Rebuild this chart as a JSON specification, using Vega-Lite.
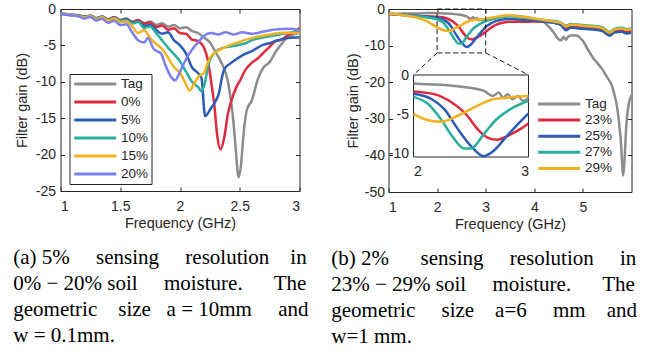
{
"$schema": "https://vega.github.io/schema/vega-lite/v6.json",
"background": "white",
"padding": {"left": 12.5, "top": 1, "right": 0, "bottom": 0},
"spacing": 21,
"config": {
  "view": {"stroke": "#262626", "strokeWidth": 1},
  "axis": {"labelFont": "Liberation Sans", "labelFontSize": 14, "labelColor": "#262626", "titleFont": "Liberation Sans", "titleFontSize": 14.5, "titleFontWeight": "normal", "titleColor": "#262626", "tickColor": "#262626", "tickSize": -4, "domain": false, "grid": false},
  "axisX": {"labelPadding": 12},
  "axisY": {"labelPadding": 9},
  "legend": {"labelFont": "Liberation Sans", "labelFontSize": 13.5, "labelColor": "#262626", "symbolType": "M-1,0H7", "symbolSize": 110, "symbolStrokeWidth": 3, "labelOffset": 34.5},
  "title": {"font": "Liberation Serif", "fontSize": 21, "fontWeight": "normal", "color": "black", "lineHeight": 26, "orient": "bottom", "anchor": "start", "frame": "bounds", "offset": 17}
},
"resolve": {"scale": {"color": "independent"}, "legend": {"color": "independent"}},
"datasets": {
"L": [
{"s":"Tag","f":1.00,"g":-0.6},{"s":"Tag","f":1.05,"g":-0.7},{"s":"Tag","f":1.10,"g":-0.8},{"s":"Tag","f":1.15,"g":-0.85},{"s":"Tag","f":1.20,"g":-1.05},{"s":"Tag","f":1.25,"g":-0.9},{"s":"Tag","f":1.30,"g":-1.25},{"s":"Tag","f":1.35,"g":-1.0},{"s":"Tag","f":1.40,"g":-1.4},{"s":"Tag","f":1.45,"g":-1.1},{"s":"Tag","f":1.50,"g":-1.5},{"s":"Tag","f":1.55,"g":-1.3},{"s":"Tag","f":1.60,"g":-1.75},{"s":"Tag","f":1.65,"g":-1.5},{"s":"Tag","f":1.70,"g":-1.95},{"s":"Tag","f":1.75,"g":-1.7},{"s":"Tag","f":1.80,"g":-2.2},{"s":"Tag","f":1.85,"g":-1.95},{"s":"Tag","f":1.90,"g":-2.45},{"s":"Tag","f":1.95,"g":-2.2},{"s":"Tag","f":2.00,"g":-2.65},{"s":"Tag","f":2.05,"g":-2.5},{"s":"Tag","f":2.10,"g":-3.0},{"s":"Tag","f":2.15,"g":-3.3},{"s":"Tag","f":2.20,"g":-3.9},{"s":"Tag","f":2.25,"g":-4.6},{"s":"Tag","f":2.30,"g":-6.0},{"s":"Tag","f":2.35,"g":-7.5},{"s":"Tag","f":2.40,"g":-9.9},{"s":"Tag","f":2.45,"g":-16.0},{"s":"Tag","f":2.47,"g":-20.0},{"s":"Tag","f":2.49,"g":-23.1},{"s":"Tag","f":2.51,"g":-21.5},{"s":"Tag","f":2.53,"g":-17.5},{"s":"Tag","f":2.56,"g":-13.8},{"s":"Tag","f":2.60,"g":-12.6},{"s":"Tag","f":2.65,"g":-9.7},{"s":"Tag","f":2.70,"g":-8.0},{"s":"Tag","f":2.75,"g":-7.3},{"s":"Tag","f":2.80,"g":-5.9},{"s":"Tag","f":2.85,"g":-4.8},{"s":"Tag","f":2.90,"g":-3.9},{"s":"Tag","f":2.95,"g":-3.5},{"s":"Tag","f":3.00,"g":-3.2},
{"s":"0%","f":1.00,"g":-0.6},{"s":"0%","f":1.05,"g":-0.75},{"s":"0%","f":1.10,"g":-0.8},{"s":"0%","f":1.15,"g":-0.9},{"s":"0%","f":1.20,"g":-1.05},{"s":"0%","f":1.25,"g":-0.95},{"s":"0%","f":1.30,"g":-1.3},{"s":"0%","f":1.35,"g":-1.05},{"s":"0%","f":1.40,"g":-1.45},{"s":"0%","f":1.45,"g":-1.15},{"s":"0%","f":1.50,"g":-1.55},{"s":"0%","f":1.55,"g":-1.35},{"s":"0%","f":1.60,"g":-1.8},{"s":"0%","f":1.65,"g":-1.55},{"s":"0%","f":1.70,"g":-2.0},{"s":"0%","f":1.75,"g":-1.85},{"s":"0%","f":1.80,"g":-2.5},{"s":"0%","f":1.85,"g":-2.25},{"s":"0%","f":1.90,"g":-2.85},{"s":"0%","f":1.95,"g":-2.65},{"s":"0%","f":2.00,"g":-3.3},{"s":"0%","f":2.05,"g":-3.4},{"s":"0%","f":2.10,"g":-4.2},{"s":"0%","f":2.15,"g":-4.4},{"s":"0%","f":2.20,"g":-5.3},{"s":"0%","f":2.23,"g":-6.8},{"s":"0%","f":2.26,"g":-9.9},{"s":"0%","f":2.29,"g":-13.6},{"s":"0%","f":2.31,"g":-17.2},{"s":"0%","f":2.34,"g":-19.3},{"s":"0%","f":2.37,"g":-17.7},{"s":"0%","f":2.40,"g":-14.5},{"s":"0%","f":2.43,"g":-12.6},{"s":"0%","f":2.47,"g":-10.8},{"s":"0%","f":2.50,"g":-9.9},{"s":"0%","f":2.55,"g":-8.3},{"s":"0%","f":2.60,"g":-7.4},{"s":"0%","f":2.65,"g":-6.8},{"s":"0%","f":2.70,"g":-6.0},{"s":"0%","f":2.75,"g":-5.2},{"s":"0%","f":2.80,"g":-4.4},{"s":"0%","f":2.85,"g":-4.2},{"s":"0%","f":2.90,"g":-3.6},{"s":"0%","f":2.95,"g":-3.2},{"s":"0%","f":3.00,"g":-2.6},
{"s":"5%","f":1.00,"g":-0.6},{"s":"5%","f":1.05,"g":-0.75},{"s":"5%","f":1.10,"g":-0.85},{"s":"5%","f":1.15,"g":-0.9},{"s":"5%","f":1.20,"g":-1.1},{"s":"5%","f":1.25,"g":-0.95},{"s":"5%","f":1.30,"g":-1.3},{"s":"5%","f":1.35,"g":-1.1},{"s":"5%","f":1.40,"g":-1.5},{"s":"5%","f":1.45,"g":-1.2},{"s":"5%","f":1.50,"g":-1.6},{"s":"5%","f":1.55,"g":-1.4},{"s":"5%","f":1.60,"g":-1.9},{"s":"5%","f":1.65,"g":-1.7},{"s":"5%","f":1.70,"g":-2.3},{"s":"5%","f":1.75,"g":-2.2},{"s":"5%","f":1.80,"g":-2.9},{"s":"5%","f":1.85,"g":-3.4},{"s":"5%","f":1.90,"g":-3.2},{"s":"5%","f":1.95,"g":-4.3},{"s":"5%","f":2.00,"g":-5.0},{"s":"5%","f":2.05,"g":-6.1},{"s":"5%","f":2.10,"g":-8.0},{"s":"5%","f":2.15,"g":-8.8},{"s":"5%","f":2.18,"g":-9.5},{"s":"5%","f":2.21,"g":-14.7},{"s":"5%","f":2.26,"g":-13.6},{"s":"5%","f":2.30,"g":-12.6},{"s":"5%","f":2.33,"g":-11.3},{"s":"5%","f":2.345,"g":-9.9},{"s":"5%","f":2.37,"g":-8.3},{"s":"5%","f":2.42,"g":-7.5},{"s":"5%","f":2.48,"g":-6.8},{"s":"5%","f":2.54,"g":-6.2},{"s":"5%","f":2.60,"g":-5.8},{"s":"5%","f":2.65,"g":-5.3},{"s":"5%","f":2.70,"g":-4.9},{"s":"5%","f":2.75,"g":-4.7},{"s":"5%","f":2.80,"g":-4.4},{"s":"5%","f":2.85,"g":-4.2},{"s":"5%","f":2.90,"g":-4.0},{"s":"5%","f":2.95,"g":-3.9},{"s":"5%","f":3.00,"g":-3.9},
{"s":"10%","f":1.00,"g":-0.6},{"s":"10%","f":1.05,"g":-0.7},{"s":"10%","f":1.10,"g":-0.85},{"s":"10%","f":1.15,"g":-0.9},{"s":"10%","f":1.20,"g":-1.1},{"s":"10%","f":1.25,"g":-1.0},{"s":"10%","f":1.30,"g":-1.35},{"s":"10%","f":1.35,"g":-1.1},{"s":"10%","f":1.40,"g":-1.5},{"s":"10%","f":1.45,"g":-1.25},{"s":"10%","f":1.50,"g":-1.65},{"s":"10%","f":1.55,"g":-1.5},{"s":"10%","f":1.60,"g":-2.0},{"s":"10%","f":1.65,"g":-1.8},{"s":"10%","f":1.70,"g":-2.6},{"s":"10%","f":1.75,"g":-2.4},{"s":"10%","f":1.80,"g":-3.3},{"s":"10%","f":1.85,"g":-4.3},{"s":"10%","f":1.90,"g":-5.3},{"s":"10%","f":1.95,"g":-6.2},{"s":"10%","f":2.00,"g":-7.2},{"s":"10%","f":2.05,"g":-8.6},{"s":"10%","f":2.10,"g":-10.0},{"s":"10%","f":2.15,"g":-10.7},{"s":"10%","f":2.18,"g":-11.3},{"s":"10%","f":2.21,"g":-10.0},{"s":"10%","f":2.24,"g":-7.5},{"s":"10%","f":2.28,"g":-6.2},{"s":"10%","f":2.32,"g":-5.6},{"s":"10%","f":2.40,"g":-5.2},{"s":"10%","f":2.50,"g":-4.9},{"s":"10%","f":2.55,"g":-4.7},{"s":"10%","f":2.60,"g":-4.3},{"s":"10%","f":2.70,"g":-3.9},{"s":"10%","f":2.80,"g":-3.6},{"s":"10%","f":2.90,"g":-3.3},{"s":"10%","f":3.00,"g":-3.1},
{"s":"15%","f":1.00,"g":-0.65},{"s":"15%","f":1.05,"g":-0.75},{"s":"15%","f":1.10,"g":-0.85},{"s":"15%","f":1.15,"g":-0.95},{"s":"15%","f":1.20,"g":-1.15},{"s":"15%","f":1.25,"g":-1.0},{"s":"15%","f":1.30,"g":-1.4},{"s":"15%","f":1.35,"g":-1.15},{"s":"15%","f":1.40,"g":-1.6},{"s":"15%","f":1.45,"g":-1.3},{"s":"15%","f":1.50,"g":-1.8},{"s":"15%","f":1.55,"g":-1.7},{"s":"15%","f":1.60,"g":-2.4},{"s":"15%","f":1.65,"g":-3.3},{"s":"15%","f":1.70,"g":-2.9},{"s":"15%","f":1.75,"g":-4.0},{"s":"15%","f":1.80,"g":-4.8},{"s":"15%","f":1.85,"g":-5.5},{"s":"15%","f":1.90,"g":-6.7},{"s":"15%","f":1.95,"g":-8.0},{"s":"15%","f":2.00,"g":-8.8},{"s":"15%","f":2.04,"g":-10.0},{"s":"15%","f":2.08,"g":-11.2},{"s":"15%","f":2.12,"g":-10.2},{"s":"15%","f":2.16,"g":-9.2},{"s":"15%","f":2.20,"g":-8.8},{"s":"15%","f":2.23,"g":-7.5},{"s":"15%","f":2.26,"g":-6.5},{"s":"15%","f":2.31,"g":-5.8},{"s":"15%","f":2.37,"g":-5.3},{"s":"15%","f":2.48,"g":-4.6},{"s":"15%","f":2.62,"g":-3.9},{"s":"15%","f":2.76,"g":-3.5},{"s":"15%","f":2.87,"g":-3.25},{"s":"15%","f":3.00,"g":-3.3},
{"s":"20%","f":1.00,"g":-0.7},{"s":"20%","f":1.05,"g":-0.8},{"s":"20%","f":1.10,"g":-0.9},{"s":"20%","f":1.15,"g":-1.0},{"s":"20%","f":1.20,"g":-1.3},{"s":"20%","f":1.25,"g":-1.1},{"s":"20%","f":1.30,"g":-1.6},{"s":"20%","f":1.35,"g":-1.35},{"s":"20%","f":1.40,"g":-1.9},{"s":"20%","f":1.45,"g":-1.6},{"s":"20%","f":1.50,"g":-2.2},{"s":"20%","f":1.55,"g":-2.1},{"s":"20%","f":1.60,"g":-3.2},{"s":"20%","f":1.65,"g":-4.3},{"s":"20%","f":1.70,"g":-4.6},{"s":"20%","f":1.73,"g":-4.0},{"s":"20%","f":1.78,"g":-5.5},{"s":"20%","f":1.84,"g":-6.1},{"s":"20%","f":1.88,"g":-7.8},{"s":"20%","f":1.92,"g":-9.2},{"s":"20%","f":1.96,"g":-9.8},{"s":"20%","f":2.00,"g":-8.6},{"s":"20%","f":2.05,"g":-6.9},{"s":"20%","f":2.10,"g":-5.6},{"s":"20%","f":2.15,"g":-4.6},{"s":"20%","f":2.20,"g":-3.7},{"s":"20%","f":2.26,"g":-3.3},{"s":"20%","f":2.32,"g":-3.5},{"s":"20%","f":2.38,"g":-3.2},{"s":"20%","f":2.45,"g":-3.5},{"s":"20%","f":2.52,"g":-3.2},{"s":"20%","f":2.60,"g":-3.4},{"s":"20%","f":2.70,"g":-3.1},{"s":"20%","f":2.80,"g":-2.8},{"s":"20%","f":2.90,"g":-2.7},{"s":"20%","f":3.00,"g":-2.9}
],
"R": [
{"s":"Tag","f":1.0,"g":-1.3},{"s":"Tag","f":1.2,"g":-1.3},{"s":"Tag","f":1.4,"g":-1.2},{"s":"Tag","f":1.6,"g":-1.2},{"s":"Tag","f":1.8,"g":-1.1},{"s":"Tag","f":2.0,"g":-1.1},{"s":"Tag","f":2.12,"g":-1.2},{"s":"Tag","f":2.24,"g":-1.25},{"s":"Tag","f":2.36,"g":-1.4},{"s":"Tag","f":2.47,"g":-1.6},{"s":"Tag","f":2.55,"g":-1.8},{"s":"Tag","f":2.61,"g":-2.0},{"s":"Tag","f":2.65,"g":-2.4},{"s":"Tag","f":2.69,"g":-2.7},{"s":"Tag","f":2.74,"g":-2.25},{"s":"Tag","f":2.78,"g":-2.9},{"s":"Tag","f":2.82,"g":-2.45},{"s":"Tag","f":2.86,"g":-3.1},{"s":"Tag","f":2.91,"g":-2.7},{"s":"Tag","f":2.95,"g":-3.3},{"s":"Tag","f":3.0,"g":-2.9},{"s":"Tag","f":3.1,"g":-2.6},{"s":"Tag","f":3.3,"g":-2.1},{"s":"Tag","f":3.5,"g":-1.8},{"s":"Tag","f":3.7,"g":-2.0},{"s":"Tag","f":3.9,"g":-2.4},{"s":"Tag","f":4.0,"g":-2.7},{"s":"Tag","f":4.1,"g":-3.0},{"s":"Tag","f":4.2,"g":-3.6},{"s":"Tag","f":4.3,"g":-4.9},{"s":"Tag","f":4.4,"g":-6.4},{"s":"Tag","f":4.48,"g":-8.0},{"s":"Tag","f":4.55,"g":-8.6},{"s":"Tag","f":4.6,"g":-7.6},{"s":"Tag","f":4.65,"g":-8.4},{"s":"Tag","f":4.7,"g":-7.5},{"s":"Tag","f":4.8,"g":-7.2},{"s":"Tag","f":4.89,"g":-7.3},{"s":"Tag","f":4.95,"g":-8.0},{"s":"Tag","f":5.0,"g":-8.7},{"s":"Tag","f":5.1,"g":-11.0},{"s":"Tag","f":5.2,"g":-13.2},{"s":"Tag","f":5.3,"g":-14.8},{"s":"Tag","f":5.4,"g":-16.5},{"s":"Tag","f":5.5,"g":-18.7},{"s":"Tag","f":5.6,"g":-21.0},{"s":"Tag","f":5.65,"g":-23.5},{"s":"Tag","f":5.7,"g":-26.5},{"s":"Tag","f":5.74,"g":-30.5},{"s":"Tag","f":5.78,"g":-36.0},{"s":"Tag","f":5.83,"g":-45.5},{"s":"Tag","f":5.86,"g":-40.5},{"s":"Tag","f":5.89,"g":-32.5},{"s":"Tag","f":5.93,"g":-27.0},{"s":"Tag","f":6.0,"g":-23.5},
{"s":"23%","f":1.0,"g":-1.4},{"s":"23%","f":1.2,"g":-1.6},{"s":"23%","f":1.4,"g":-1.8},{"s":"23%","f":1.6,"g":-1.9},{"s":"23%","f":1.8,"g":-2.0},{"s":"23%","f":2.0,"g":-2.1},{"s":"23%","f":2.18,"g":-2.45},{"s":"23%","f":2.33,"g":-3.5},{"s":"23%","f":2.47,"g":-5.25},{"s":"23%","f":2.55,"g":-6.8},{"s":"23%","f":2.64,"g":-8.0},{"s":"23%","f":2.72,"g":-8.3},{"s":"23%","f":2.81,"g":-7.85},{"s":"23%","f":2.92,"g":-7.0},{"s":"23%","f":3.0,"g":-6.2},{"s":"23%","f":3.1,"g":-5.2},{"s":"23%","f":3.2,"g":-4.4},{"s":"23%","f":3.3,"g":-3.9},{"s":"23%","f":3.4,"g":-3.6},{"s":"23%","f":3.5,"g":-3.5},{"s":"23%","f":3.6,"g":-3.5},{"s":"23%","f":3.8,"g":-3.5},{"s":"23%","f":4.0,"g":-3.4},{"s":"23%","f":4.2,"g":-3.5},{"s":"23%","f":4.4,"g":-3.7},{"s":"23%","f":4.55,"g":-4.2},{"s":"23%","f":4.65,"g":-5.3},{"s":"23%","f":4.75,"g":-4.8},{"s":"23%","f":4.9,"g":-4.9},{"s":"23%","f":5.0,"g":-5.0},{"s":"23%","f":5.2,"g":-5.2},{"s":"23%","f":5.4,"g":-5.6},{"s":"23%","f":5.55,"g":-6.9},{"s":"23%","f":5.65,"g":-6.0},{"s":"23%","f":5.8,"g":-5.8},{"s":"23%","f":5.9,"g":-6.2},{"s":"23%","f":6.0,"g":-6.0},
{"s":"25%","f":1.0,"g":-1.3},{"s":"25%","f":1.2,"g":-1.5},{"s":"25%","f":1.4,"g":-1.7},{"s":"25%","f":1.6,"g":-1.9},{"s":"25%","f":1.8,"g":-2.1},{"s":"25%","f":2.0,"g":-2.4},{"s":"25%","f":2.16,"g":-3.1},{"s":"25%","f":2.27,"g":-4.4},{"s":"25%","f":2.38,"g":-6.8},{"s":"25%","f":2.5,"g":-9.1},{"s":"25%","f":2.61,"g":-10.4},{"s":"25%","f":2.69,"g":-9.8},{"s":"25%","f":2.81,"g":-7.85},{"s":"25%","f":2.92,"g":-6.1},{"s":"25%","f":3.0,"g":-4.9},{"s":"25%","f":3.1,"g":-4.0},{"s":"25%","f":3.2,"g":-3.4},{"s":"25%","f":3.3,"g":-3.0},{"s":"25%","f":3.4,"g":-2.8},{"s":"25%","f":3.5,"g":-2.7},{"s":"25%","f":3.6,"g":-2.8},{"s":"25%","f":3.8,"g":-3.0},{"s":"25%","f":4.0,"g":-3.1},{"s":"25%","f":4.2,"g":-3.4},{"s":"25%","f":4.4,"g":-3.8},{"s":"25%","f":4.55,"g":-4.4},{"s":"25%","f":4.65,"g":-5.8},{"s":"25%","f":4.75,"g":-5.1},{"s":"25%","f":4.9,"g":-5.3},{"s":"25%","f":5.0,"g":-5.4},{"s":"25%","f":5.2,"g":-5.6},{"s":"25%","f":5.4,"g":-6.0},{"s":"25%","f":5.55,"g":-7.3},{"s":"25%","f":5.65,"g":-6.4},{"s":"25%","f":5.8,"g":-6.2},{"s":"25%","f":5.9,"g":-6.7},{"s":"25%","f":6.0,"g":-6.5},
{"s":"27%","f":1.0,"g":-1.3},{"s":"27%","f":1.2,"g":-1.5},{"s":"27%","f":1.4,"g":-1.8},{"s":"27%","f":1.6,"g":-2.0},{"s":"27%","f":1.8,"g":-2.3},{"s":"27%","f":2.0,"g":-2.8},{"s":"27%","f":2.13,"g":-3.75},{"s":"27%","f":2.24,"g":-5.7},{"s":"27%","f":2.35,"g":-8.1},{"s":"27%","f":2.44,"g":-9.4},{"s":"27%","f":2.5,"g":-9.4},{"s":"27%","f":2.61,"g":-7.6},{"s":"27%","f":2.72,"g":-5.7},{"s":"27%","f":2.84,"g":-4.4},{"s":"27%","f":3.0,"g":-3.3},{"s":"27%","f":3.2,"g":-2.6},{"s":"27%","f":3.4,"g":-2.1},{"s":"27%","f":3.5,"g":-2.0},{"s":"27%","f":3.6,"g":-2.1},{"s":"27%","f":3.8,"g":-2.4},{"s":"27%","f":4.0,"g":-2.7},{"s":"27%","f":4.2,"g":-3.0},{"s":"27%","f":4.4,"g":-3.3},{"s":"27%","f":4.55,"g":-3.7},{"s":"27%","f":4.65,"g":-4.6},{"s":"27%","f":4.75,"g":-4.1},{"s":"27%","f":4.9,"g":-4.2},{"s":"27%","f":5.0,"g":-4.4},{"s":"27%","f":5.2,"g":-4.6},{"s":"27%","f":5.4,"g":-5.0},{"s":"27%","f":5.55,"g":-6.3},{"s":"27%","f":5.65,"g":-5.4},{"s":"27%","f":5.8,"g":-5.1},{"s":"27%","f":5.9,"g":-5.5},{"s":"27%","f":6.0,"g":-5.3},
{"s":"29%","f":1.0,"g":-1.2},{"s":"29%","f":1.2,"g":-1.5},{"s":"29%","f":1.4,"g":-1.9},{"s":"29%","f":1.6,"g":-2.4},{"s":"29%","f":1.8,"g":-3.4},{"s":"29%","f":1.9,"g":-4.2},{"s":"29%","f":2.0,"g":-5.0},{"s":"29%","f":2.13,"g":-5.8},{"s":"29%","f":2.24,"g":-6.0},{"s":"29%","f":2.38,"g":-5.25},{"s":"29%","f":2.52,"g":-4.2},{"s":"29%","f":2.67,"g":-3.2},{"s":"29%","f":2.81,"g":-2.9},{"s":"29%","f":3.0,"g":-2.7},{"s":"29%","f":3.2,"g":-2.2},{"s":"29%","f":3.4,"g":-1.8},{"s":"29%","f":3.5,"g":-1.7},{"s":"29%","f":3.6,"g":-1.9},{"s":"29%","f":3.8,"g":-2.2},{"s":"29%","f":4.0,"g":-2.6},{"s":"29%","f":4.2,"g":-3.0},{"s":"29%","f":4.4,"g":-3.4},{"s":"29%","f":4.55,"g":-3.8},{"s":"29%","f":4.65,"g":-4.8},{"s":"29%","f":4.75,"g":-4.3},{"s":"29%","f":4.9,"g":-4.4},{"s":"29%","f":5.0,"g":-4.6},{"s":"29%","f":5.2,"g":-4.8},{"s":"29%","f":5.4,"g":-5.2},{"s":"29%","f":5.55,"g":-6.5},{"s":"29%","f":5.65,"g":-5.6},{"s":"29%","f":5.8,"g":-5.3},{"s":"29%","f":5.9,"g":-5.7},{"s":"29%","f":6.0,"g":-5.5}
]
},
"hconcat": [
{
  "width": 239, "height": 182,
  "title": {"text": ["(a) 5%\u00a0\u00a0\u00a0\u00a0 sensing\u00a0\u00a0\u00a0\u00a0 resolution\u00a0\u00a0\u00a0 in", "0% \u2212 20% soil\u00a0\u00a0\u00a0\u00a0 moisture.\u00a0\u00a0\u00a0\u00a0\u00a0 The", "geometric\u00a0\u00a0\u00a0 size\u00a0\u00a0 a = 10mm\u00a0\u00a0\u00a0\u00a0 and", "w = 0.1mm."], "dx": -1.5},
  "data": {"name": "L"},
  "layer": [
    {
      "mark": {"type": "line", "strokeWidth": 2.5, "interpolate": "monotone"},
      "encoding": {
        "x": {"field": "f", "type": "quantitative", "scale": {"domain": [1, 3], "nice": false, "zero": false}, "axis": {"values": [1, 1.5, 2, 2.5, 3], "labelExpr": "'' + datum.value", "title": "Frequency (GHz)", "titlePadding": 3, "orient": "bottom"}},
        "y": {"field": "g", "type": "quantitative", "scale": {"domain": [-25, 0], "nice": false, "zero": false}, "axis": {"values": [-25, -20, -15, -10, -5, 0], "labelExpr": "'' + datum.value", "title": "Filter gain (dB)", "titlePadding": 5.5, "orient": "left"}},
        "color": {"field": "s", "type": "nominal", "scale": {"domain": ["Tag", "0%", "5%", "10%", "15%", "20%"], "range": ["#8c8c8c", "#dd2a3c", "#2d5cb5", "#2aaf9d", "#f2b120", "#7b7ff0"]}, "legend": {"orient": "none", "legendX": 9, "legendY": 65, "title": null, "strokeColor": "#262626", "fillColor": "white", "padding": 3, "rowPadding": 4}}
      }
    },
    {
      "mark": {"type": "line", "opacity": 0},
      "encoding": {
        "x": {"field": "f", "type": "quantitative", "axis": {"orient": "top", "values": [1, 1.5, 2, 2.5, 3], "labels": false, "title": null}},
        "y": {"field": "g", "type": "quantitative", "axis": {"orient": "right", "values": [-25, -20, -15, -10, -5, 0], "labels": false, "title": null}}
      }
    }
  ],
  "resolve": {"axis": {"x": "independent", "y": "independent"}}
},
{
  "width": 243, "height": 183,
  "title": {"text": ["(b) 2%\u00a0\u00a0\u00a0\u00a0\u00a0 sensing\u00a0\u00a0\u00a0\u00a0 resolution\u00a0\u00a0\u00a0\u00a0 in", "23% \u2212 29% soil\u00a0\u00a0\u00a0\u00a0 moisture.\u00a0\u00a0\u00a0\u00a0\u00a0 The", "geometric\u00a0\u00a0\u00a0\u00a0 size\u00a0\u00a0\u00a0 a=6\u00a0\u00a0\u00a0\u00a0 mm\u00a0\u00a0\u00a0 and", "w=1 mm."], "dx": -14},
  "layer": [
    {
      "layer": [
        {
          "data": {"name": "R"},
          "mark": {"type": "line", "strokeWidth": 2.5, "interpolate": "monotone", "clip": true},
          "encoding": {
            "x": {"field": "f", "type": "quantitative", "scale": {"domain": [1, 6], "nice": false, "zero": false}, "axis": {"values": [1, 2, 3, 4, 5], "labelExpr": "'' + datum.value", "title": "Frequency (GHz)", "titlePadding": 3, "orient": "bottom"}},
            "y": {"field": "g", "type": "quantitative", "scale": {"domain": [-50, 0], "nice": false, "zero": false}, "axis": {"values": [-50, -40, -30, -20, -10, 0], "labelExpr": "'' + datum.value", "title": "Filter gain (dB)", "titlePadding": 4, "labelPadding": 8, "orient": "left"}},
            "color": {"field": "s", "type": "nominal", "scale": {"domain": ["Tag", "23%", "25%", "27%", "29%"], "range": ["#8c8c8c", "#dd2a3c", "#2d5cb5", "#2aaf9d", "#f2b120"]}, "legend": {"orient": "none", "legendX": 148, "legendY": 88, "title": null, "fillColor": "white", "padding": 0, "rowPadding": 2.1}}
          }
        },
        {
          "data": {"values": [{"f": 2, "f2": 3, "g": -12, "g2": 0}]},
          "mark": {"type": "rect", "fillOpacity": 0, "stroke": "#1a1a1a", "strokeWidth": 1, "strokeDash": [5, 3]},
          "encoding": {
            "x": {"field": "f", "type": "quantitative", "axis": {"values": [1, 2, 3, 4, 5], "labelExpr": "'' + datum.value", "title": "Frequency (GHz)", "titlePadding": 3, "orient": "bottom"}},
            "x2": {"field": "f2"},
            "y": {"field": "g", "type": "quantitative", "axis": {"values": [-50, -40, -30, -20, -10, 0], "labelExpr": "'' + datum.value", "title": "Filter gain (dB)", "titlePadding": 4, "labelPadding": 8, "orient": "left"}},
            "y2": {"field": "g2"}
          }
        },
        {
          "data": {"values": [{"f": 2, "g": -12, "f2": 1.514, "g2": -18.0}, {"f": 3, "g": -12, "f2": 3.88, "g2": -18.0}]},
          "mark": {"type": "rule", "strokeDash": [5, 3], "color": "#1a1a1a", "strokeWidth": 1},
          "encoding": {
            "x": {"field": "f", "type": "quantitative", "axis": {"values": [1, 2, 3, 4, 5], "labelExpr": "'' + datum.value", "title": "Frequency (GHz)", "titlePadding": 3, "orient": "bottom"}},
            "x2": {"field": "f2"},
            "y": {"field": "g", "type": "quantitative", "axis": {"values": [-50, -40, -30, -20, -10, 0], "labelExpr": "'' + datum.value", "title": "Filter gain (dB)", "titlePadding": 4, "labelPadding": 8, "orient": "left"}},
            "y2": {"field": "g2"}
          }
        }
      ]
    },
    {
      "layer": [
        {
          "data": {"values": [{"f": 2, "f2": 3, "g": -10.5, "g2": 0}]},
          "mark": {"type": "rect", "fill": "white", "stroke": "#262626", "strokeWidth": 1},
          "encoding": {
            "x": {"field": "f", "type": "quantitative", "scale": {"domain": [2, 3], "range": [25, 140], "nice": false, "zero": false}, "axis": {"orient": "bottom", "offset": -35, "values": [2, 3], "labelExpr": "'' + datum.value", "title": null, "labelPadding": 7, "tickSize": 0}},
            "x2": {"field": "f2"},
            "y": {"field": "g", "type": "quantitative", "scale": {"domain": [-10.5, 0], "range": [148, 66], "nice": false, "zero": false}, "axis": {"orient": "left", "offset": -25, "values": [-10, -5, 0], "labelExpr": "'' + datum.value", "title": null, "labelPadding": 5, "tickSize": 0}},
            "y2": {"field": "g2"}
          }
        },
        {
          "data": {"name": "R"},
          "transform": [{"filter": "datum.f >= 2 && datum.f <= 3"}],
          "mark": {"type": "line", "strokeWidth": 2.5, "interpolate": "monotone"},
          "encoding": {
            "x": {"field": "f", "type": "quantitative", "axis": {"orient": "bottom", "offset": -35, "values": [2, 3], "labelExpr": "'' + datum.value", "title": null, "labelPadding": 7, "tickSize": 0}},
            "y": {"field": "g", "type": "quantitative", "axis": {"orient": "left", "offset": -25, "values": [-10, -5, 0], "labelExpr": "'' + datum.value", "title": null, "labelPadding": 5, "tickSize": 0}},
            "color": {"field": "s", "type": "nominal", "legend": {"orient": "none", "legendX": 148, "legendY": 88, "title": null, "fillColor": "white", "padding": 0, "rowPadding": 2.1}}
          }
        }
      ]
    },
    {
      "data": {"name": "R"},
      "mark": {"type": "line", "opacity": 0},
      "encoding": {
        "x": {"field": "f", "type": "quantitative", "scale": {"domain": [1, 6], "nice": false, "zero": false}, "axis": {"orient": "top", "values": [1, 2, 3, 4, 5], "labels": false, "title": null}},
        "y": {"field": "g", "type": "quantitative", "scale": {"domain": [-50, 0], "nice": false, "zero": false}, "axis": {"orient": "right", "values": [-50, -40, -30, -20, -10, 0], "labels": false, "title": null}}
      }
    }
  ],
  "resolve": {"scale": {"x": "independent", "y": "independent"}, "axis": {"x": "independent", "y": "independent"}}
}
]
}
